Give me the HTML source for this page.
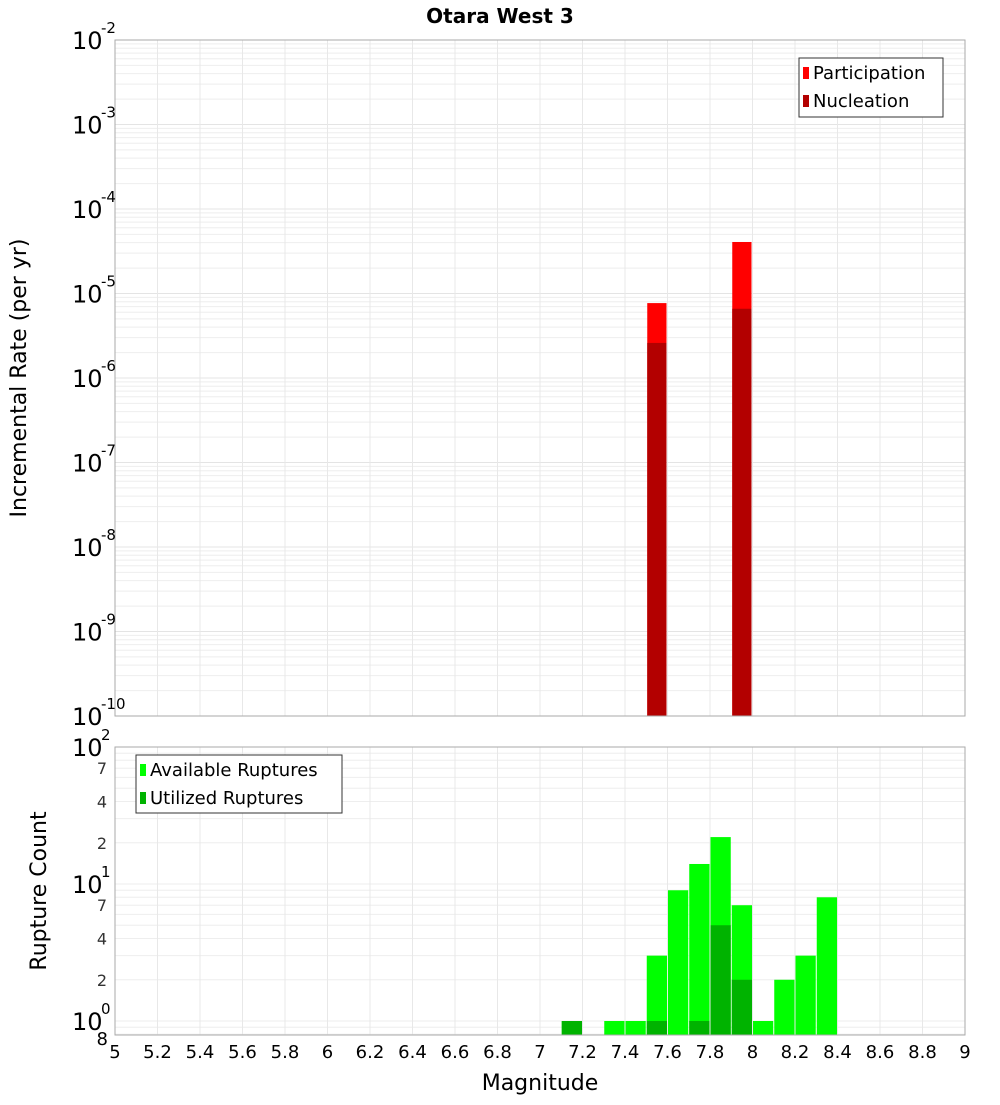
<!DOCTYPE html>
<html><head><meta charset="utf-8"><style>
body{margin:0;background:#fff;font-family:"Liberation Sans","DejaVu Sans",sans-serif}
</style></head><body>
<svg id="c" width="1000" height="1100" xmlns="http://www.w3.org/2000/svg" font-family="DejaVu Sans, Liberation Sans, sans-serif"></svg>
<script>
const topCats=[7.55,7.95];
const participation=[7.7e-6,4.07e-5];
const nucleation=[2.6e-6,6.6e-6];
const botCats=[7.15,7.35,7.45,7.55,7.65,7.75,7.85,7.95,8.05,8.15,8.25,8.35];
const available=[1,1,1,3,9,14,22,7,1,2,3,8];
const utilized=[1,0,0,1,0,1,5,2,0,0,0,0];
const xTicks=[5,5.2,5.4,5.6,5.8,6,6.2,6.4,6.6,6.8,7,7.2,7.4,7.6,7.8,8,8.2,8.4,8.6,8.8,9];
const topExps=[-10,-9,-8,-7,-6,-5,-4,-3,-2];
const botExps=[0,1,2];
const botMinor=[2,4,7];

const svg=document.getElementById('c');const NS='http://www.w3.org/2000/svg';
function el(t,a,p){const e=document.createElementNS(NS,t);for(const k in a)e.setAttribute(k,a[k]);(p||svg).appendChild(e);return e;}
const L=115,R=965;
const x=v=>L+(v-5)/4*(R-L);
const T0=40,T1=716;const yT=v=>T0+(-2-Math.log10(v))/8*(T1-T0);
const B0=747,B1=1035;const yB=v=>B0+(2-Math.log10(v))*137;

let g=el('g',{});
for(let e=-10;e<-2;e++)for(let m=1;m<10;m++){const yy=yT(m*Math.pow(10,e));el('line',{x1:L,x2:R,y1:yy,y2:yy,stroke:m==1?'#e4e4e4':'#eeeeee','stroke-width':1},g);}
xTicks.forEach(t=>{el('line',{x1:x(t),x2:x(t),y1:T0,y2:T1,stroke:'#e8e8e8'},g);});
let g2=el('g',{});
for(let e=-1;e<2;e++)for(let m=1;m<10;m++){const v=m*Math.pow(10,e);const yy=yB(v);if(yy>B1||yy<B0)continue;el('line',{x1:L,x2:R,y1:yy,y2:yy,stroke:'#eeeeee'},g2);}
xTicks.forEach(t=>{el('line',{x1:x(t),x2:x(t),y1:B0,y2:B1,stroke:'#e8e8e8'},g2);});

const bw=(x(0.1)-x(0));
topCats.forEach((c,i)=>{
 let r=el('rect',{x:x(c)-bw/2+1,width:bw-2,y:yT(participation[i]),height:T1-yT(participation[i]),fill:'#ff0000'});
 
 let n=el('rect',{x:x(c)-bw/2+1,width:bw-2,y:yT(nucleation[i]),height:T1-yT(nucleation[i]),fill:'#b30000'});
 
});
botCats.forEach((c,i)=>{
 if(available[i]>0){let r=el('rect',{x:x(c)-bw/2+0.5,width:bw-1,y:yB(available[i]),height:B1-yB(available[i]),fill:'#00ff00'});
 }
 if(utilized[i]>0){let r=el('rect',{x:x(c)-bw/2+0.5,width:bw-1,y:yB(utilized[i]),height:B1-yB(utilized[i]),fill:'#00b300'});
 }
});
el('rect',{x:L,y:T0,width:R-L,height:T1-T0,fill:'none',stroke:'#aaa'});
el('rect',{x:L,y:B0,width:R-L,height:B1-B0,fill:'none',stroke:'#aaa'});

function txt(s,a){const t=el('text',a);t.textContent=s;return t;}
let tt=txt('Otara West 3',{x:500,y:23,'font-size':20,'font-weight':'bold','text-anchor':'middle'});

topExps.forEach(e=>{const yy=yT(Math.pow(10,e));
 let t=txt('10',{x:72,y:yy+9,'font-size':24});
 txt(String(e),{x:101,y:yy-7,'font-size':15});});
botExps.forEach(e=>{const yy=yB(Math.pow(10,e));
 let t=txt('10',{x:72,y:yy+9,'font-size':24});
 txt(String(e),{x:101,y:yy-7,'font-size':15});});
[0.1,1,10].forEach(d=>botMinor.forEach(m=>{const v=m*d;const yy=yB(v);if(yy>B1||yy<B0)return;txt(String(m),{x:107,y:yy+6,'font-size':16,'text-anchor':'end',fill:'#333'});}));
txt('8',{x:108,y:B1+10,'font-size':18,'text-anchor':'end'});
xTicks.forEach(t=>{let s=txt(String(t),{x:x(t),y:1058,'font-size':18,'text-anchor':'middle'});});
let xt=txt('Magnitude',{x:540,y:1090,'font-size':22,'text-anchor':'middle'});
let y1=txt('Incremental Rate (per yr)',{x:0,y:0,'font-size':22,'text-anchor':'middle',transform:'translate(26,378) rotate(-90)'});
let y2=txt('Rupture Count',{x:0,y:0,'font-size':22,'text-anchor':'middle',transform:'translate(46,891) rotate(-90)'});

let lg=el('g',{});
el('rect',{x:799,y:58,width:144,height:59,fill:'#fff',stroke:'#333'},lg);
el('rect',{x:803,y:67,width:6,height:12,fill:'#ff0000'},lg);txt('Participation',{x:813,y:79,'font-size':18},lg);
el('rect',{x:803,y:95,width:6,height:12,fill:'#b30000'},lg);txt('Nucleation',{x:813,y:107,'font-size':18},lg);
let lb=el('g',{});
el('rect',{x:136,y:755,width:206,height:58,fill:'#fff',stroke:'#333'},lb);
el('rect',{x:140,y:764,width:6,height:12,fill:'#00ff00'},lb);txt('Available Ruptures',{x:150,y:776,'font-size':18},lb);
el('rect',{x:140,y:792,width:6,height:12,fill:'#00b300'},lb);txt('Utilized Ruptures',{x:150,y:804,'font-size':18},lb);
</script></body></html>
